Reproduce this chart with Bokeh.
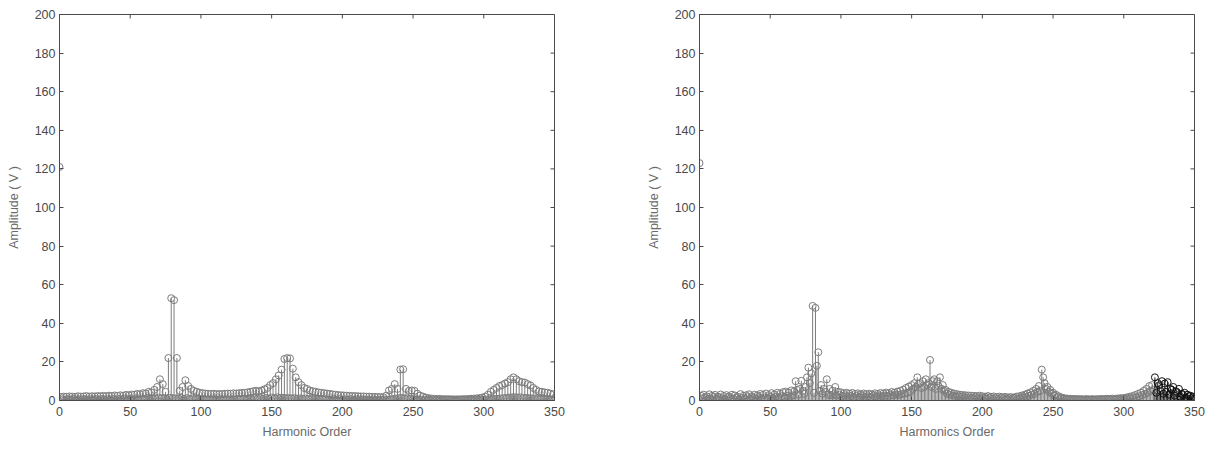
import math
from bokeh.plotting import figure
from bokeh.layouts import row
from bokeh.models import Range1d, FixedTicker
from bokeh.embed import file_html
from bokeh.resources import INLINE

# ---------------- data ----------------
x_ticks = [0, 50, 100, 150, 200, 250, 300, 350]
y_ticks = [0, 20, 40, 60, 80, 100, 120, 140, 160, 180, 200]

# Left plot: DC component, odd harmonics (1,3,...,349), even harmonics (2,4,...,350)
left_dc = 121.0
left_odd = [
    1.8, 2.0, 1.9, 2.1, 2.0, 1.9, 2.2, 2.0, 2.1, 2.3,
    2.0, 2.2, 2.1, 2.3, 2.2, 2.4, 2.2, 2.5, 2.3, 2.6,
    2.4, 2.7, 2.5, 2.9, 2.7, 3.1, 3.0, 3.4, 3.2, 3.8,
    3.6, 4.5, 4.2, 5.5, 7.0, 11.0, 8.5, 4.5, 22.0, 53.0,
    52.0, 22.0, 5.0, 7.0, 10.5, 7.5, 6.0, 5.0, 4.5, 4.0,
    3.8, 3.6, 3.5, 3.4, 3.5, 3.3, 3.4, 3.3, 3.5, 3.6,
    3.5, 3.7, 3.6, 3.8, 3.9, 4.0, 4.2, 4.5, 4.8, 5.0,
    4.8, 5.2, 5.8, 6.5, 8.0, 9.0, 11.0, 13.0, 16.0, 21.5,
    22.0, 21.8, 16.5, 12.0, 9.5, 8.0, 6.5, 6.0, 5.2, 4.8,
    4.5, 4.2, 4.0, 3.8, 3.6, 3.4, 3.2, 3.0, 2.8, 2.7,
    2.6, 2.5, 2.4, 2.3, 2.3, 2.2, 2.1, 2.1, 2.0, 2.0,
    1.9, 1.9, 1.8, 1.8, 1.7, 2.5, 5.2, 6.0, 8.5, 6.0,
    16.0, 16.2, 6.0, 5.0, 5.2, 5.0, 3.5, 2.5, 2.0, 1.5,
    1.2, 1.0, 0.9, 0.8, 0.8, 0.7, 0.7, 0.7, 0.6, 0.6,
    0.6, 0.6, 0.7, 0.7, 0.8, 0.9, 1.0, 1.1, 1.3, 1.5,
    2.0, 3.0, 4.5, 5.5, 6.5, 7.5, 8.0, 8.8, 9.5, 11.0,
    12.0, 11.0, 10.0, 9.5, 9.3, 8.5, 7.8, 6.5, 5.5, 4.7,
    4.5, 4.2, 4.0, 3.6, 3.2,
]
left_even = [
    0.6, 0.4, 0.7, 0.5, 0.8, 0.4, 0.6, 0.5, 0.7, 0.4,
    0.6, 0.5, 0.8, 0.4, 0.7, 0.5, 0.6, 0.4, 0.8, 0.5,
    0.7, 0.5, 0.9, 0.6, 0.8, 0.5, 1.0, 0.6, 0.9, 0.7,
    1.1, 0.8, 1.3, 1.0, 1.5, 1.2, 1.0, 0.8, 1.4, 1.2,
    1.1, 1.0, 1.3, 0.9, 1.2, 0.8, 1.0, 0.7, 0.9, 0.6,
    0.8, 0.5, 0.7, 0.5, 0.8, 0.4, 0.7, 0.5, 0.6, 0.5,
    0.7, 0.5, 0.8, 0.6, 0.9, 0.6, 1.0, 0.7, 1.1, 0.8,
    1.2, 0.9, 1.3, 1.0, 1.5, 1.2, 1.6, 1.3, 1.4, 1.2,
    1.3, 1.1, 1.2, 1.0, 1.1, 0.9, 1.0, 0.8, 0.9, 0.7,
    0.8, 0.6, 0.7, 0.5, 0.6, 0.5, 0.7, 0.4, 0.6, 0.4,
    0.5, 0.4, 0.6, 0.3, 0.5, 0.4, 0.5, 0.3, 0.4, 0.3,
    0.5, 0.3, 0.4, 0.3, 0.5, 0.4, 0.6, 0.8, 1.0, 1.2,
    1.4, 1.1, 1.0, 0.8, 0.7, 0.6, 0.5, 0.4, 0.4, 0.3,
    0.3, 0.2, 0.3, 0.2, 0.3, 0.2, 0.2, 0.3, 0.2, 0.2,
    0.3, 0.2, 0.3, 0.2, 0.3, 0.3, 0.4, 0.3, 0.4, 0.5,
    0.5, 0.6, 0.7, 0.8, 0.9, 1.0, 1.2, 1.3, 1.5, 1.6,
    1.7, 1.5, 1.6, 1.4, 1.3, 1.2, 1.1, 1.0, 0.9, 0.8,
    0.7, 0.7, 0.6, 0.5, 0.5,
]

# Right plot: harmonic orders 0..321 (gray) and 322..350 (black)
right_gray = [
    123.0, 2.5, 1.2, 3.0, 1.5, 2.2, 0.8, 3.2, 1.0, 2.4,
    1.8, 2.9, 0.9, 2.0, 1.4, 3.1, 1.1, 2.3, 0.7, 2.8,
    1.6, 2.1, 1.2, 3.0, 0.9, 2.6, 1.5, 1.9, 0.8, 3.3,
    1.3, 2.4, 1.0, 2.7, 1.7, 3.2, 0.9, 2.2, 1.4, 3.0,
    1.1, 2.6, 1.8, 3.4, 1.0, 2.9, 1.5, 3.6, 1.2, 2.8,
    1.9, 3.8, 1.3, 3.1, 2.0, 4.0, 1.6, 3.5, 2.2, 4.3,
    1.8, 4.6, 2.4, 4.1, 2.0, 5.2, 2.6, 4.8, 10.0, 5.5,
    3.0, 6.0, 10.2, 5.0, 3.5, 7.0, 12.0, 17.0, 9.0, 14.0,
    49.0, 4.0, 48.0, 18.0, 25.0, 5.0, 8.0, 3.5, 6.0, 4.5,
    11.0, 3.0, 6.0, 2.8, 5.0, 3.2, 7.0, 2.5, 4.5, 3.0,
    4.2, 2.2, 3.8, 2.6, 4.0, 2.0, 3.5, 2.4, 3.9, 1.8,
    3.4, 2.3, 3.7, 1.9, 3.2, 2.5, 3.6, 2.0, 3.3, 2.2,
    3.5, 1.8, 3.1, 2.4, 3.7, 2.1, 3.4, 2.6, 3.9, 2.2,
    3.6, 2.5, 4.1, 2.3, 3.8, 2.8, 4.4, 2.6, 4.0, 3.0,
    4.6, 2.9, 5.0, 3.3, 5.6, 3.6, 6.5, 4.0, 7.2, 4.5,
    8.0, 6.0, 9.0, 7.0, 12.0, 8.5, 9.0, 6.5, 10.0, 7.0,
    11.0, 8.0, 9.0, 21.0, 7.0, 10.0, 11.0, 6.0, 10.0, 7.5,
    12.0, 6.0, 8.0, 5.0, 5.5, 3.5, 4.5, 3.0, 4.0, 2.6,
    3.6, 2.4, 3.3, 2.2, 3.0, 2.0, 2.9, 1.8, 2.7, 1.6,
    2.6, 1.5, 2.5, 1.4, 2.4, 1.6, 2.3, 1.3, 2.5, 1.2,
    2.2, 1.4, 2.0, 1.1, 2.3, 1.3, 1.9, 1.0, 2.1, 1.2,
    1.8, 0.9, 2.0, 1.1, 1.7, 1.0, 1.9, 0.8, 1.6, 1.0,
    1.8, 0.9, 1.5, 1.2, 2.0, 1.0, 2.2, 1.4, 2.6, 1.8,
    3.0, 2.0, 3.6, 2.4, 4.2, 3.0, 5.0, 3.5, 6.0, 4.5,
    7.5, 5.0, 16.0, 12.0, 9.0, 6.0, 7.0, 4.5, 5.5, 3.5,
    4.0, 2.5, 3.0, 1.8, 2.2, 1.2, 1.6, 0.9, 1.2, 0.7,
    1.0, 0.6, 0.9, 0.5, 0.8, 0.5, 0.8, 0.4, 0.7, 0.5,
    0.7, 0.4, 0.6, 0.5, 0.7, 0.4, 0.6, 0.5, 0.7, 0.4,
    0.6, 0.5, 0.7, 0.4, 0.8, 0.5, 0.7, 0.6, 0.9, 0.5,
    0.8, 0.6, 1.0, 0.6, 0.9, 0.7, 1.1, 0.7, 1.2, 0.8,
    1.3, 0.9, 1.6, 1.0, 1.9, 1.2, 2.3, 1.5, 2.8, 1.8,
    3.4, 2.2, 4.0, 2.8, 5.0, 3.4, 6.0, 4.0, 7.5, 5.0,
    8.0, 5.5,
]
right_black_start = 322
right_black = [
    12.0, 4.0, 9.0, 7.9, 5.0, 10.0, 3.5, 8.8, 4.5, 9.5,
    3.0, 6.0, 5.5, 7.0, 2.5, 4.7, 3.8, 6.0, 2.0, 3.5,
    2.8, 4.0, 1.5, 3.0, 2.2, 2.5, 1.2, 2.0, 1.0,
]

left_xlabel = "Harmonic Order"
right_xlabel = "Harmonics Order"
ylabel = "Amplitude ( V )"

# ---------------- styling ----------------
GRAY = "#7c7c7c"
BLACK = "#111111"
FRAME = "#4a4a4a"
TICKTXT = "#4a4a4a"
FONT = "Liberation Sans"
X_MIN, X_MAX, Y_MIN, Y_MAX = 0, 350, 0, 200


def make_fig(xlabel, border_left, border_right):
    p = figure(
        frame_width=495, frame_height=386,
        min_border_left=border_left, min_border_right=border_right,
        min_border_top=14, min_border_bottom=50,
        x_range=Range1d(X_MIN, X_MAX), y_range=Range1d(Y_MIN, Y_MAX),
        output_backend="svg", toolbar_location=None,
        background_fill_color="white", border_fill_color="white",
    )
    p.grid.visible = False
    p.outline_line_color = FRAME
    p.outline_line_width = 1

    for ax in (p.xaxis[0], p.yaxis[0]):
        ax.axis_line_color = FRAME
        ax.major_tick_line_color = FRAME
        ax.major_tick_in = 4
        ax.major_tick_out = 0
        ax.minor_tick_line_color = None
        ax.major_label_text_font = FONT
        ax.major_label_text_font_size = "12.5px"
        ax.major_label_text_color = TICKTXT
        ax.axis_label_text_font = FONT
        ax.axis_label_text_font_size = "12.5px"
        ax.axis_label_text_font_style = "normal"
        ax.axis_label_text_color = "#6a6a6a"

    p.xaxis[0].ticker = FixedTicker(ticks=x_ticks)
    p.yaxis[0].ticker = FixedTicker(ticks=y_ticks)
    p.xaxis[0].axis_label = xlabel
    p.yaxis[0].axis_label = ylabel
    p.xaxis[0].major_label_standoff = 6
    p.xaxis[0].axis_label_standoff = 6
    p.yaxis[0].major_label_standoff = 4
    p.yaxis[0].axis_label_standoff = 11

    # mirrored tick marks on the right and top edges (box style);
    # dash markers centred on the frame edge, the outer half is clipped away
    p.scatter(x=[X_MAX] * len(y_ticks), y=y_ticks, marker="dash", size=8,
              line_color=FRAME, line_width=1)
    p.scatter(x=x_ticks, y=[Y_MAX] * len(x_ticks), marker="dash", size=8,
              angle=math.pi / 2, line_color=FRAME, line_width=1)
    return p


def stems(p, xs, ys, color):
    p.segment(x0=xs, y0=[0] * len(xs), x1=xs, y1=ys, line_color=color, line_width=1)
    p.scatter(x=xs, y=ys, marker="circle", size=7, fill_color=None,
              line_color=color, line_width=1)


# left
p1 = make_fig(left_xlabel, 59, 86)
lx = [0] + [2 * i + 1 for i in range(len(left_odd))] + [2 * i + 2 for i in range(len(left_even))]
ly = [left_dc] + left_odd + left_even
stems(p1, lx, ly, GRAY)

# right
p2 = make_fig(right_xlabel, 59, 24)
rx = list(range(len(right_gray)))
stems(p2, rx, right_gray, GRAY)
bx = [right_black_start + i for i in range(len(right_black))]
stems(p2, bx, right_black, BLACK)

layout = row(p1, p2)
open("out.html", "w").write(file_html(layout, INLINE))
